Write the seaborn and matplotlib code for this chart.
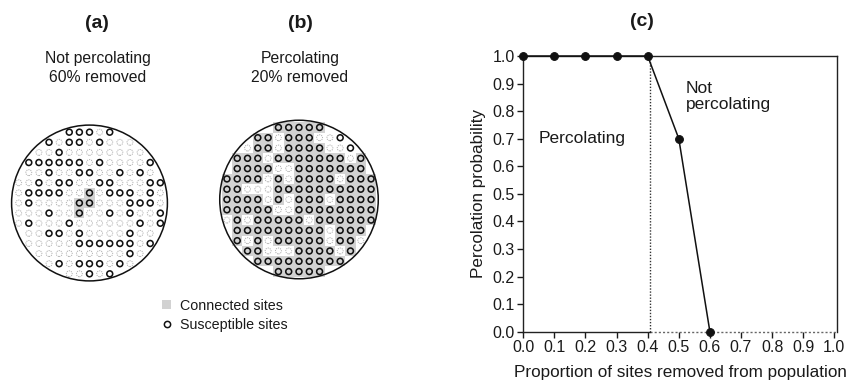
import numpy as np
import pandas as pd
import matplotlib
matplotlib.use("Agg")
import matplotlib.pyplot as plt
from matplotlib.patches import Circle, Rectangle, Patch
from matplotlib.lines import Line2D
import seaborn as sns

sns.set_theme(style="ticks")
plt.rcParams['font.family'] = ['Liberation Sans', 'DejaVu Sans']

# ---- data ----
# 'o' susceptible site, '-' removed site, ' ' outside the population
grid_a = [
    "     ooo-o     ",
    "   o-oo-o---   ",
    "  --o--------  ",
    " oooooo-o----o ",
    " --o--oo--o-o- ",
    "--o-oo--oo---oo",
    "-oooo--o-ooo-o-",
    "-o----oo---ooo-",
    "---o--o--o-o--o",
    "-o---o------o-o",
    " --oo-o----o-- ",
    " -----oooooo-o ",
    "  ---------o-  ",
    "   -o-ooo-o-   ",
    "     --o-o     ",
]
grid_b = [
    "     ooooo     ",
    "   oo-ooo--o   ",
    "  -oo-oooo--o  ",
    " ooo-ooooooo-o ",
    " oooo--ooooooo ",
    "oooo-o-oooo-ooo",
    "oo---oooooooooo",
    "oooo-o-ooo-oooo",
    "ooooo--oooooooo",
    "-o-ooooo-oooooo",
    " ooooooooo-ooo ",
    " o-o-ooooo-oo- ",
    "  oo---oooo-o  ",
    "   ooooooooo   ",
    "     ooooo     ",
]
removed_prop = [0.0, 0.1, 0.2, 0.3, 0.4, 0.5, 0.6]
perc_prob = [1.0, 1.0, 1.0, 1.0, 1.0, 0.7, 0.0]
threshold = 0.407
tick_vals = [0.0, 0.1, 0.2, 0.3, 0.4, 0.5, 0.6, 0.7, 0.8, 0.9, 1.0]


def grid_frame(rows):
    recs = []
    n = len(rows)
    c0 = (len(rows[0]) - 1) / 2
    r0 = (n - 1) / 2
    for r, row in enumerate(rows):
        for c, ch in enumerate(row):
            if ch == ' ':
                continue
            recs.append(dict(row=r, col=c, x=c - c0, y=r0 - r,
                             state='susceptible' if ch == 'o' else 'removed'))
    df = pd.DataFrame(recs)
    occ = {(r, c) for r, c, s in zip(df.row, df.col, df.state) if s == 'susceptible'}
    start = (int(r0), int(c0))
    conn = set()
    stack = [start] if start in occ else []
    while stack:
        p = stack.pop()
        if p in conn:
            continue
        conn.add(p)
        for dr, dc in ((1, 0), (-1, 0), (0, 1), (0, -1)):
            q = (p[0] + dr, p[1] + dc)
            if q in occ and q not in conn:
                stack.append(q)
    df['connected'] = [(r, c) in conn for r, c in zip(df.row, df.col)]
    return df


W, H = 846, 382
fig = plt.figure(figsize=(W / 100, H / 100), dpi=100)


def px_axes(cx, cy, size):
    return fig.add_axes([(cx - size / 2) / W, 1 - (cy + size / 2) / H, size / W, size / H])


def draw_panel(ax, df):
    for x, y in df.loc[df.connected, ['x', 'y']].itertuples(index=False):
        ax.add_patch(Rectangle((x - 0.5, y - 0.5), 1, 1, facecolor='#d2d2d2',
                               edgecolor='none', zorder=1))
    rem = df[df.state == 'removed']
    sus = df[df.state == 'susceptible']
    sns.scatterplot(data=rem, x='x', y='y', marker='o', s=18, ax=ax, legend=False, zorder=2)
    coll = ax.collections[-1]
    coll.set_facecolor('none')
    coll.set_edgecolor('#b0b0b0')
    coll.set_linewidth(0.7)
    coll.set_linestyle((0, (1.2, 1.0)))
    sns.scatterplot(data=sus, x='x', y='y', marker='o', s=18, ax=ax, legend=False, zorder=3)
    coll = ax.collections[-1]
    coll.set_facecolor('none')
    coll.set_edgecolor('#111111')
    coll.set_linewidth(1.15)
    ax.add_patch(Circle((0, 0), 7.7, fill=False, edgecolor='#111111', linewidth=1.1, zorder=4))
    ax.set_xlim(-8.5, 8.5)
    ax.set_ylim(-8.5, 8.5)
    ax.set_aspect('equal')
    ax.axis('off')


ax_a = px_axes(89.5, 203, 172)
draw_panel(ax_a, grid_frame(grid_a))
ax_b = px_axes(299, 199.5, 175)
draw_panel(ax_b, grid_frame(grid_b))

txt = dict(ha='center', va='center', color='#1a1a1a')
fig.text(97 / W, 1 - 23 / H, '(a)', fontsize=14, fontweight='bold', **txt)
fig.text(300 / W, 1 - 23 / H, '(b)', fontsize=14, fontweight='bold', **txt)
fig.text(642 / W, 1 - 22 / H, '(c)', fontsize=14, fontweight='bold', **txt)
fig.text(98 / W, 1 - 58 / H, 'Not percolating', fontsize=11.3, **txt)
fig.text(98 / W, 1 - 77 / H, '60% removed', fontsize=11.3, **txt)
fig.text(300 / W, 1 - 58 / H, 'Percolating', fontsize=11.3, **txt)
fig.text(300 / W, 1 - 77 / H, '20% removed', fontsize=11.3, **txt)

handles = [Patch(facecolor='#d2d2d2', edgecolor='none'),
           Line2D([], [], marker='o', linestyle='none', markerfacecolor='none',
                  markeredgecolor='#111111', markersize=4.5, markeredgewidth=1.1)]
fig.legend(handles, ['Connected sites', 'Susceptible sites'], loc='upper left',
           bbox_to_anchor=(162 / W, 1 - 298.5 / H), frameon=False, fontsize=10.3,
           handlelength=0.65, handleheight=0.65, handletextpad=0.6, labelspacing=0.4,
           borderpad=0, borderaxespad=0, labelcolor='#1a1a1a')

# ---- panel (c) ----
axc = fig.add_axes([523.3 / W, 1 - 331.7 / H, (837 - 523.3) / W, (331.7 - 56) / H])
df_c = pd.DataFrame({'removed': removed_prop, 'prob': perc_prob})
sns.lineplot(data=df_c, x='removed', y='prob', color='#111111', marker='o', markersize=5.6,
             markeredgecolor='#111111', linewidth=1.1, ax=axc, clip_on=False, zorder=5)
axc.axvline(threshold, ymin=0, ymax=1, color='#333333', linestyle=(0, (1, 1.2)), linewidth=1.0)
axc.plot([threshold, 1.0087], [0, 0], color='#666666', linestyle=(0, (1.5, 1.5)),
         linewidth=1.0, clip_on=False)
axc.set_xlim(0, 1.0087)
axc.set_ylim(0, 1)
for s in axc.spines.values():
    s.set_visible(True)
    s.set_linewidth(1.0)
    s.set_color('#222222')
axc.spines['bottom'].set_bounds(0, threshold)
axc.set_xticks(tick_vals)
axc.set_yticks(tick_vals)
axc.set_xticklabels([f'{v:.1f}' for v in tick_vals])
axc.set_yticklabels([f'{v:.1f}' for v in tick_vals])
axc.tick_params(direction='out', length=4, width=1, labelsize=11.5, pad=2,
                colors='#1a1a1a', bottom=True, left=True)
axc.set_xlabel('Proportion of sites removed from population', fontsize=12.3,
               color='#1a1a1a', labelpad=7)
axc.set_ylabel('Percolation probability', fontsize=12.3, color='#1a1a1a', labelpad=5)
axc.text(0.048, 0.70, 'Percolating', fontsize=12.5, ha='left', va='center', color='#1a1a1a')
axc.text(0.523, 0.853, 'Not\npercolating', fontsize=12.5, ha='left', va='center',
         color='#1a1a1a', linespacing=1.15)

fig.savefig('out.png', dpi=100)
